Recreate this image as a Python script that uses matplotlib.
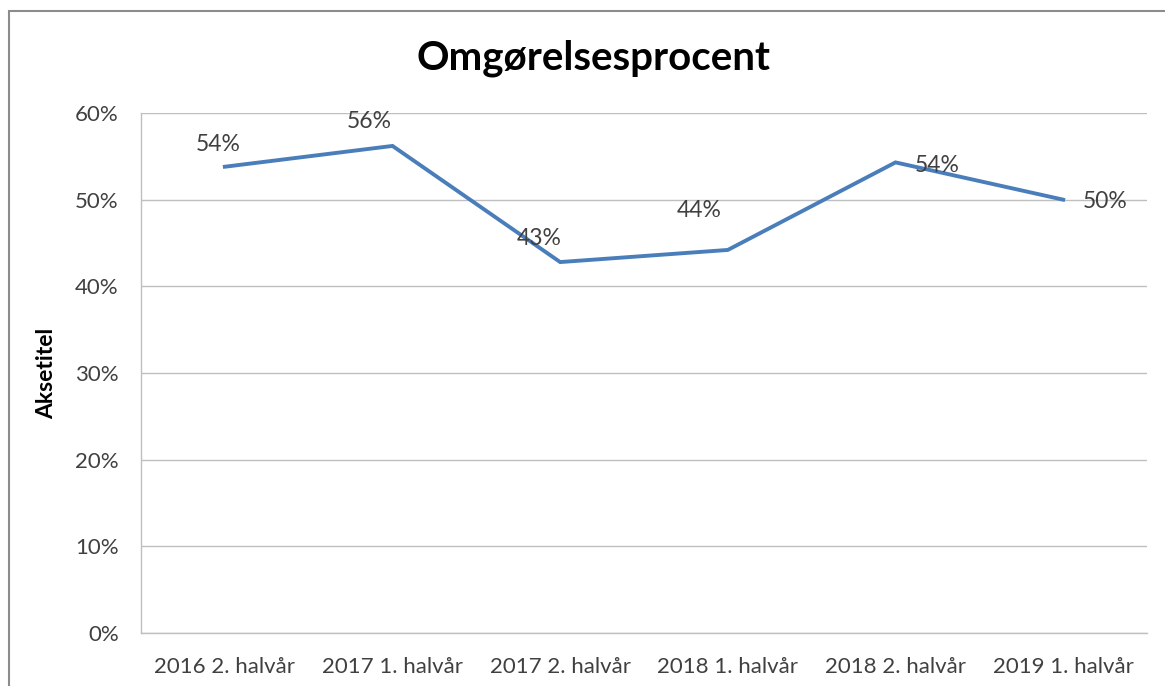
import matplotlib.pyplot as plt
from matplotlib.patches import Rectangle
from matplotlib.ticker import PercentFormatter

# --- Data ---
periods = ["2016 2. halvår", "2017 1. halvår", "2017 2. halvår",
           "2018 1. halvår", "2018 2. halvår", "2019 1. halvår"]
rates = [53.8, 56.2, 42.8, 44.2, 54.3, 50.0]
labels = ["54%", "56%", "43%", "44%", "54%", "50%"]

# label offsets in pixels (Excel-style placement)
label_offsets = [(-7, 22), (-23, 24), (-21, 24), (-29, 39), (42, -3), (42, -2)]

plt.rcParams['font.family'] = ['Lato', 'DejaVu Sans']

fig = plt.figure(figsize=(11.65, 6.86), dpi=100)
W, H = 1165, 686
ax = fig.add_axes([141 / W, 1 - 633 / H, (1147 - 141) / W, (633 - 113) / H])

# outer chart border
fig.patches.append(Rectangle((9 / W, -0.1), 1.2, 1 - 11 / H + 0.1, transform=fig.transFigure,
                             fill=False, edgecolor='#8c8c8c', linewidth=1.5))

x = list(range(len(periods)))
ax.plot(x, rates, color='#4a7ebb', linewidth=2.8, solid_joinstyle='miter')

for xi, yi, lab, (dx, dy) in zip(x, rates, labels, label_offsets):
    ax.annotate(lab, (xi, yi), xytext=(dx, dy), textcoords='offset pixels',
                ha='center', va='center', fontsize=16.5, color='#404040')

ax.set_xlim(-0.5, len(periods) - 0.5)
ax.set_ylim(0, 60)
ax.set_yticks(range(0, 61, 10))
ax.yaxis.set_major_formatter(PercentFormatter(decimals=0))
ax.set_xticks(x)
ax.set_xticklabels(periods)
ax.tick_params(axis='both', length=0, labelsize=16, labelcolor='#404040')
ax.tick_params(axis='x', pad=17)
ax.tick_params(axis='y', pad=16)
ax.grid(axis='y', color='#bfbfbf', linewidth=1)
ax.set_axisbelow(True)

for side in ['top', 'right']:
    ax.spines[side].set_visible(False)
for side in ['left', 'bottom']:
    ax.spines[side].set_color('#bfbfbf')
    ax.spines[side].set_linewidth(1)

ax.set_ylabel('Aksetitel', fontsize=16.5, fontweight='bold')
ax.yaxis.set_label_coords(-0.0835, 0.5)
fig.text(593 / W, 1 - 58 / H, 'Omgørelsesprocent', ha='center', va='center',
         fontsize=29, fontweight='bold')

plt.savefig('out.png', dpi=100)
